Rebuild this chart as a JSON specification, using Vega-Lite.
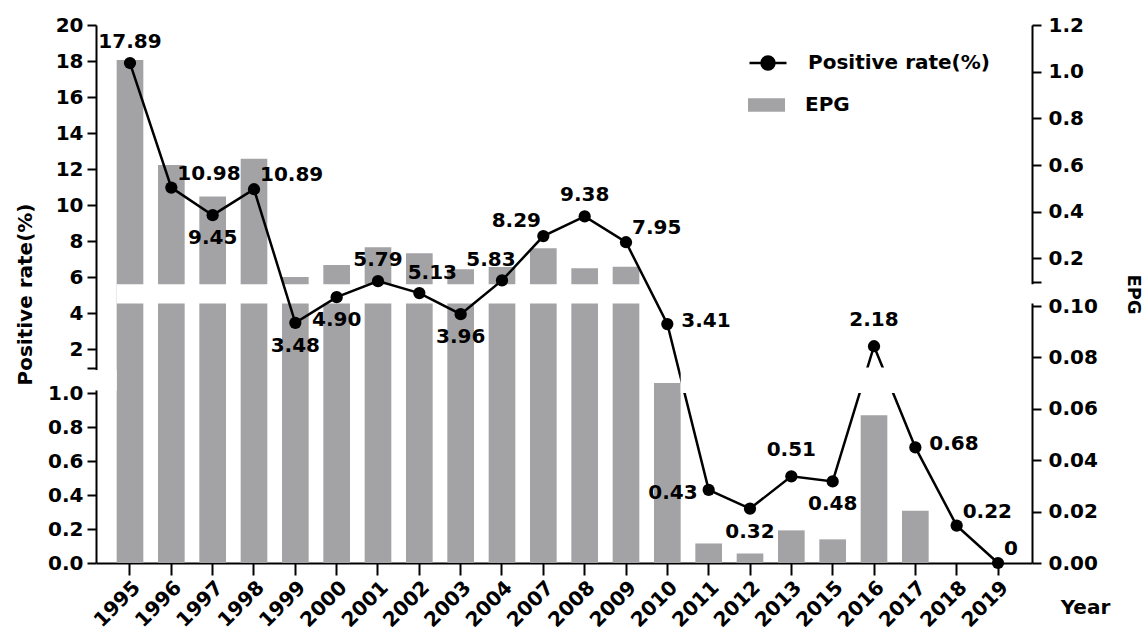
{
  "$schema": "https://vega.github.io/schema/vega-lite/v6.json",
  "width": 936,
  "height": 538,
  "autosize": {"type": "none"},
  "padding": {"left": 96, "top": 25, "right": 115, "bottom": 72},
  "background": "white",
  "config": {
    "font": "DejaVu Sans",
    "view": {"stroke": null},
    "axis": {
      "domainColor": "black", "domainWidth": 2, "tickColor": "black", "tickWidth": 2,
      "labelColor": "black", "labelFont": "DejaVu Sans", "labelFontSize": 20, "labelFontWeight": "bold",
      "titleColor": "black", "titleFont": "DejaVu Sans", "titleFontSize": 18, "titleFontWeight": "bold",
      "grid": false
    },
    "axisY": {"labelOverlap": false}
  },
  "data": {
    "values": [
      {"year": "1995", "rate": 17.89, "epg": 1.05},
      {"year": "1996", "rate": 10.98, "epg": 0.60},
      {"year": "1997", "rate": 9.45, "epg": 0.465},
      {"year": "1998", "rate": 10.89, "epg": 0.627},
      {"year": "1999", "rate": 3.48, "epg": 0.12},
      {"year": "2000", "rate": 4.90, "epg": 0.172},
      {"year": "2001", "rate": 5.79, "epg": 0.248},
      {"year": "2002", "rate": 5.13, "epg": 0.222},
      {"year": "2003", "rate": 3.96, "epg": 0.153},
      {"year": "2004", "rate": 5.83, "epg": 0.163},
      {"year": "2007", "rate": 8.29, "epg": 0.243},
      {"year": "2008", "rate": 9.38, "epg": 0.158},
      {"year": "2009", "rate": 7.95, "epg": 0.164},
      {"year": "2010", "rate": 3.41, "epg": 0.070},
      {"year": "2011", "rate": 0.43, "epg": 0.0076},
      {"year": "2012", "rate": 0.32, "epg": 0.0037},
      {"year": "2013", "rate": 0.51, "epg": 0.0127},
      {"year": "2015", "rate": 0.48, "epg": 0.0092},
      {"year": "2016", "rate": 2.18, "epg": 0.0575},
      {"year": "2017", "rate": 0.68, "epg": 0.0203},
      {"year": "2018", "rate": 0.22, "epg": 0},
      {"year": "2019", "rate": 0, "epg": 0}
    ]
  },
  "encoding": {
    "x": {
      "field": "year", "type": "nominal", "sort": null,
      "scale": {"paddingInner": 0.355, "paddingOuter": 0.5},
      "axis": {"labelAngle": -45, "tickSize": 12, "labelPadding": 2, "title": "Year", "titleX": 989, "titleY": 44, "titleAlign": "center", "titleBaseline": "middle", "titleAngle": 0, "titleFontSize": 20}
    }
  },
  "layer": [
    {
      "layer": [
        {
          "mark": {"type": "bar"},
          "encoding": {
            "y": {
              "field": "epg", "type": "quantitative",
              "scale": {"domain": [0, 0.1, 0.10001, 1.2], "range": [538, 281, 256.7, 0], "nice": false, "zero": false},
              "axis": {
                "orient": "right",
                "values": [0, 0.02, 0.04, 0.06, 0.08, 0.1, 0.10001, 0.2, 0.4, 0.6, 0.8, 1, 1.2],
                "tickCount": 40,
                "labelExpr": "datum.value <= 0.1 ? format(datum.value, '.2f') : (datum.value < 0.15 ? '' : format(datum.value, '.1f'))",
                "tickSize": 9, "labelPadding": 7, "labelFlush": false, "labelOverlap": false,
                "title": "EPG", "titlePadding": 26
              }
            },
            "fill": {
              "datum": "EPG", "type": "nominal",
              "scale": {"range": ["#a3a3a6"]},
              "legend": {
                "orient": "none", "legendX": 652, "legendY": 61.5, "title": null, "padding": 0,
                "symbolType": "M-1,-0.36H1V0.36H-1Z", "symbolSize": 1369,
                "symbolFillColor": "#a3a3a6", "symbolStrokeColor": "#a3a3a6", "symbolStrokeWidth": 0,
                "labelFontSize": 20, "labelFontWeight": "bold", "labelColor": "black", "labelFont": "DejaVu Sans", "labelOffset": 20, "labelLimit": 0,
                "encode": {"symbols": {"update": {"fill": {"value": "#a3a3a6"}, "opacity": {"value": 1}}}}
              }
            }
          }
        },
        {
          "data": {"values": [{}]},
          "mark": {"type": "rect", "fill": "white"},
          "encoding": {
            "x": {"datum": "1995", "type": "nominal", "bandPosition": 0},
            "x2": {"datum": "2019", "bandPosition": 2},
            "y": {"datum": 0.100001, "type": "quantitative", "scale": {"domain": [0, 0.1, 0.10001, 1.2], "range": [538, 281, 256.7, 0], "nice": false, "zero": false}},
            "y2": {"datum": 0.100009}
          }
        }
      ]
    },
    {
      "layer": [
        {
          "mark": {"type": "line", "color": "black", "strokeWidth": 2.5},
          "encoding": {
            "y": {
              "field": "rate", "type": "quantitative",
              "scale": {"domain": [0, 1, 1.0001, 20], "range": [538, 368, 342.5, 0], "nice": false, "zero": false},
              "axis": {
                "orient": "left",
                "values": [0, 0.2, 0.4, 0.6, 0.8, 1, 1.0001, 2, 4, 6, 8, 10, 12, 14, 16, 18, 20],
                "tickCount": 40,
                "labelExpr": "datum.value <= 1 ? format(datum.value, '.1f') : (datum.value < 1.5 ? '' : format(datum.value, 'd'))",
                "tickSize": 9, "labelPadding": 4, "labelFlush": false, "labelOverlap": false,
                "title": "Positive rate(%)", "titlePadding": 12, "titleFontSize": 20
              }
            }
          }
        },
        {
          "data": {"values": [{}]},
          "mark": {"type": "rect", "fill": "white"},
          "encoding": {
            "x": {"datum": "2010", "type": "nominal", "bandPosition": 1},
            "x2": {"datum": "2011", "bandPosition": 0.5},
            "y": {"datum": 1, "type": "quantitative", "scale": {"domain": [0, 1, 1.0001, 20], "range": [538, 368, 342.5, 0], "nice": false, "zero": false}},
            "y2": {"datum": 1.0001}
          }
        },
        {
          "data": {"values": [{}]},
          "mark": {"type": "rect", "fill": "white"},
          "encoding": {
            "x": {"datum": "2015", "type": "nominal", "bandPosition": 0.5},
            "x2": {"datum": "2017", "bandPosition": 0.5},
            "y": {"datum": 1, "type": "quantitative", "scale": {"domain": [0, 1, 1.0001, 20], "range": [538, 368, 342.5, 0], "nice": false, "zero": false}},
            "y2": {"datum": 1.0001}
          }
        },
        {
          "data": {"values": [{}]},
          "mark": {"type": "rect", "fill": "white"},
          "encoding": {
            "x": {"datum": "1995", "type": "nominal", "bandPosition": -1},
            "x2": {"datum": "1995", "bandPosition": 0},
            "y": {"datum": 1.00001, "type": "quantitative", "scale": {"domain": [0, 1, 1.0001, 20], "range": [538, 368, 342.5, 0], "nice": false, "zero": false}},
            "y2": {"datum": 1.00009}
          }
        },
        {
          "mark": {"type": "point", "filled": true, "size": 150, "opacity": 1},
          "encoding": {
            "y": {"field": "rate", "type": "quantitative", "scale": {"domain": [0, 1, 1.0001, 20], "range": [538, 368, 342.5, 0], "nice": false, "zero": false}},
            "color": {
              "datum": "Positive rate(%)", "type": "nominal",
              "scale": {"range": ["black"]},
              "legend": {
                "orient": "none", "legendX": 652, "legendY": 18, "title": null, "padding": 0,
                "symbolType": "M-1,0H1M0.35,0A0.35,0.35,0,1,1,-0.35,0A0.35,0.35,0,1,1,0.35,0Z", "symbolSize": 1369,
                "symbolStrokeWidth": 2.5, "symbolStrokeColor": "black", "symbolFillColor": "black",
                "labelFontSize": 20, "labelFontWeight": "bold", "labelColor": "black", "labelFont": "DejaVu Sans", "labelOffset": 20, "labelLimit": 0,
                "encode": {"symbols": {
                  "enter": {"stroke": {"value": "black"}, "strokeWidth": {"value": 2.5}},
                  "update": {"fill": {"value": "black"}, "stroke": {"value": "black"}, "strokeWidth": {"value": 2.5}, "opacity": {"value": 1}}
                }}
              }
            }
          }
        },
        {
          "transform": [{"filter": {"field": "year", "oneOf": ["1995", "2001", "2008"]}}],
          "mark": {"type": "text", "fontSize": 20, "fontWeight": "bold", "color": "black", "align": "center", "baseline": "middle", "dy": -21},
          "encoding": {
            "y": {"field": "rate", "type": "quantitative", "scale": {"domain": [0, 1, 1.0001, 20], "range": [538, 368, 342.5, 0], "nice": false, "zero": false}},
            "text": {"field": "rate", "type": "quantitative", "format": ".2f", "condition": {"test": "datum.rate === 0", "value": "0"}}
          }
        },
        {
          "transform": [{"filter": {"field": "year", "oneOf": ["2013", "2016"]}}],
          "mark": {"type": "text", "fontSize": 20, "fontWeight": "bold", "color": "black", "align": "center", "baseline": "middle", "dy": -26},
          "encoding": {
            "y": {"field": "rate", "type": "quantitative", "scale": {"domain": [0, 1, 1.0001, 20], "range": [538, 368, 342.5, 0], "nice": false, "zero": false}},
            "text": {"field": "rate", "type": "quantitative", "format": ".2f", "condition": {"test": "datum.rate === 0", "value": "0"}}
          }
        },
        {
          "transform": [{"filter": {"field": "year", "oneOf": ["1997", "1999", "2000", "2003", "2012", "2015"]}}],
          "mark": {"type": "text", "fontSize": 20, "fontWeight": "bold", "color": "black", "align": "center", "baseline": "middle", "dy": 23},
          "encoding": {
            "y": {"field": "rate", "type": "quantitative", "scale": {"domain": [0, 1, 1.0001, 20], "range": [538, 368, 342.5, 0], "nice": false, "zero": false}},
            "text": {"field": "rate", "type": "quantitative", "format": ".2f", "condition": {"test": "datum.rate === 0", "value": "0"}}
          }
        },
        {
          "transform": [{"filter": {"field": "year", "oneOf": ["1996", "1998", "2009", "2018", "2019"]}}],
          "mark": {"type": "text", "fontSize": 20, "fontWeight": "bold", "color": "black", "align": "left", "baseline": "middle", "dx": 6, "dy": -14},
          "encoding": {
            "y": {"field": "rate", "type": "quantitative", "scale": {"domain": [0, 1, 1.0001, 20], "range": [538, 368, 342.5, 0], "nice": false, "zero": false}},
            "text": {"field": "rate", "type": "quantitative", "format": ".2f", "condition": {"test": "datum.rate === 0", "value": "0"}}
          }
        },
        {
          "transform": [{"filter": {"field": "year", "oneOf": ["2010", "2017"]}}],
          "mark": {"type": "text", "fontSize": 20, "fontWeight": "bold", "color": "black", "align": "left", "baseline": "middle", "dx": 14, "dy": -3},
          "encoding": {
            "y": {"field": "rate", "type": "quantitative", "scale": {"domain": [0, 1, 1.0001, 20], "range": [538, 368, 342.5, 0], "nice": false, "zero": false}},
            "text": {"field": "rate", "type": "quantitative", "format": ".2f", "condition": {"test": "datum.rate === 0", "value": "0"}}
          }
        },
        {
          "transform": [{"filter": {"field": "year", "oneOf": ["2011"]}}],
          "mark": {"type": "text", "fontSize": 20, "fontWeight": "bold", "color": "black", "align": "right", "baseline": "middle", "dx": -11, "dy": 3},
          "encoding": {
            "y": {"field": "rate", "type": "quantitative", "scale": {"domain": [0, 1, 1.0001, 20], "range": [538, 368, 342.5, 0], "nice": false, "zero": false}},
            "text": {"field": "rate", "type": "quantitative", "format": ".2f", "condition": {"test": "datum.rate === 0", "value": "0"}}
          }
        },
        {
          "transform": [{"filter": {"field": "year", "oneOf": ["2002"]}}],
          "mark": {"type": "text", "fontSize": 20, "fontWeight": "bold", "color": "black", "align": "center", "baseline": "middle", "dx": 13, "dy": -20},
          "encoding": {
            "y": {"field": "rate", "type": "quantitative", "scale": {"domain": [0, 1, 1.0001, 20], "range": [538, 368, 342.5, 0], "nice": false, "zero": false}},
            "text": {"field": "rate", "type": "quantitative", "format": ".2f", "condition": {"test": "datum.rate === 0", "value": "0"}}
          }
        },
        {
          "transform": [{"filter": {"field": "year", "oneOf": ["2004"]}}],
          "mark": {"type": "text", "fontSize": 20, "fontWeight": "bold", "color": "black", "align": "center", "baseline": "middle", "dx": -11, "dy": -20},
          "encoding": {
            "y": {"field": "rate", "type": "quantitative", "scale": {"domain": [0, 1, 1.0001, 20], "range": [538, 368, 342.5, 0], "nice": false, "zero": false}},
            "text": {"field": "rate", "type": "quantitative", "format": ".2f", "condition": {"test": "datum.rate === 0", "value": "0"}}
          }
        },
        {
          "transform": [{"filter": {"field": "year", "oneOf": ["2007"]}}],
          "mark": {"type": "text", "fontSize": 20, "fontWeight": "bold", "color": "black", "align": "center", "baseline": "middle", "dx": -27, "dy": -15},
          "encoding": {
            "y": {"field": "rate", "type": "quantitative", "scale": {"domain": [0, 1, 1.0001, 20], "range": [538, 368, 342.5, 0], "nice": false, "zero": false}},
            "text": {"field": "rate", "type": "quantitative", "format": ".2f", "condition": {"test": "datum.rate === 0", "value": "0"}}
          }
        }
      ]
    }
  ],
  "resolve": {"scale": {"y": "independent"}}
}
